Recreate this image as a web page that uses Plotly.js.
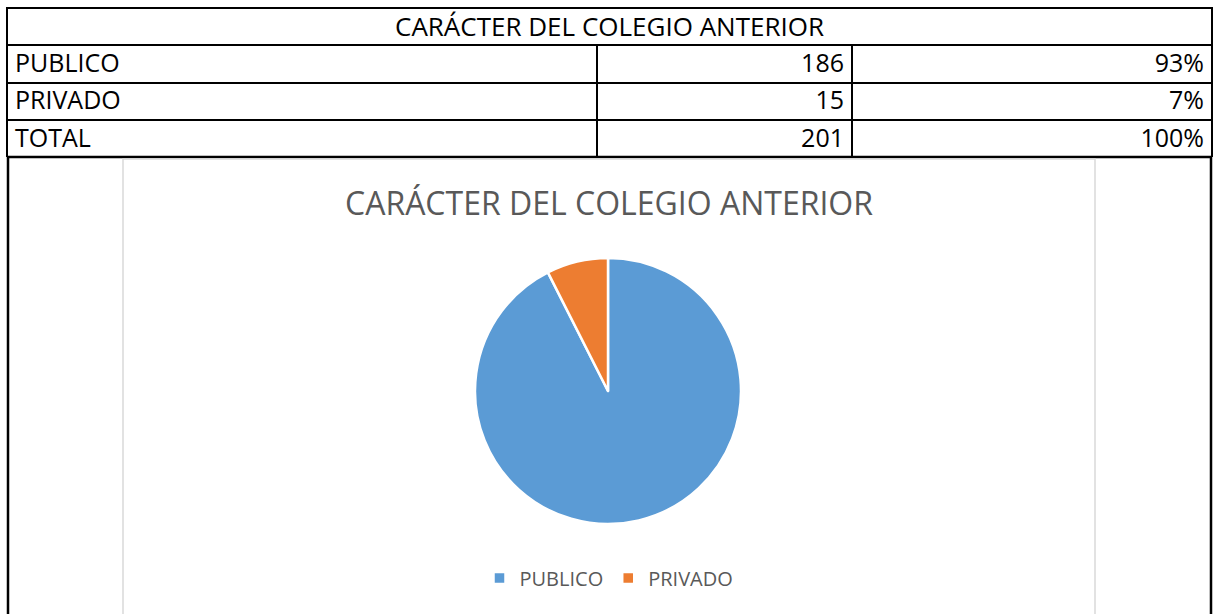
<!DOCTYPE html>
<html>
<head>
<meta charset="utf-8">
<script src="https://cdn.plot.ly/plotly-3.0.1.min.js"></script>
<style>
  html, body { margin: 0; padding: 0; background: #fff; }
  #grafica { width: 1217px; height: 614px; }
</style>
</head>
<body>
<div id="grafica"></div>
<script>
// datos de la tabla y del grafico
var titulo = 'CARÁCTER DEL COLEGIO ANTERIOR';
var categorias = ['PUBLICO', 'PRIVADO'];
var cantidades = [186, 15];
var porcentajes = ['93%', '7%'];
var filaTotal = ['TOTAL', '201', '100%'];
var colores = ['#5B9BD5', '#ED7D31'];

var W = 1217, H = 614;
function px(x) { return x / W; }
function py(y) { return 1 - y / H; }

var fuente = 'Open Sans, Noto Sans, sans-serif';
var fuenteTabla = { family: fuente, size: 25, color: 'black' };
var bordeTabla = { color: 'black', width: 2 };

// primera fila va en el encabezado (plotly no deja tabla sin encabezado)
var col1 = categorias.concat([filaTotal[0]]);
var col2 = cantidades.map(String).concat([filaTotal[1]]);
var col3 = porcentajes.concat([filaTotal[2]]);

var tablaTitulo = {
  type: 'table',
  domain: { x: [px(7), px(1212)], y: [py(50), py(8)] },
  columnwidth: [1],
  header: {
    values: [[titulo]],
    height: 37,
    align: 'center',
    line: bordeTabla,
    fill: { color: 'white' },
    font: { family: fuente, size: 26, color: 'black' }
  },
  cells: { values: [[]] }
};

var tablaDatos = {
  type: 'table',
  domain: { x: [px(7), px(1212)], y: [py(158), py(45)] },
  columnwidth: [590, 255, 360],
  header: {
    values: [[col1[0]], [col2[0]], [col3[0]]],
    height: 37.5,
    align: ['left', 'right', 'right'],
    line: bordeTabla,
    fill: { color: 'white' },
    font: fuenteTabla
  },
  cells: {
    values: [col1.slice(1), col2.slice(1), col3.slice(1)],
    height: 37.5,
    align: ['left', 'right', 'right'],
    line: bordeTabla,
    fill: { color: 'white' },
    font: fuenteTabla
  }
};

var pastel = {
  type: 'pie',
  labels: categorias,
  values: cantidades,
  sort: false,
  direction: 'clockwise',
  rotation: 0,
  textinfo: 'none',
  hoverinfo: 'label+value+percent',
  marker: { colors: colores, line: { color: 'white', width: 2.5 } },
  domain: { x: [px(475), px(741)], y: [py(524), py(258)] }
};

var layout = {
  width: W,
  height: H,
  margin: { l: 0, r: 0, t: 0, b: 0 },
  paper_bgcolor: 'white',
  plot_bgcolor: 'white',
  showlegend: true,
  title: {
    text: titulo,
    x: px(609),
    xanchor: 'center',
    y: py(204),
    yanchor: 'middle',
    font: { family: fuente, size: 32, color: '#595959' }
  },
  legend: {
    orientation: 'h',
    x: px(609),
    xanchor: 'center',
    y: py(578),
    yanchor: 'middle',
    font: { family: fuente, size: 20, color: '#595959' },
    itemclick: false
  },
  shapes: [
    { type: 'line', xref: 'paper', yref: 'paper', x0: px(7), x1: px(1212), y0: py(157), y1: py(157), line: { color: 'black', width: 2.5 } },
    // bordes exteriores bajo la tabla
    { type: 'line', xref: 'paper', yref: 'paper', x0: px(8), x1: px(8), y0: py(157), y1: 0, line: { color: 'black', width: 2.5 } },
    { type: 'line', xref: 'paper', yref: 'paper', x0: px(1211), x1: px(1211), y0: py(157), y1: 0, line: { color: 'black', width: 2.5 } },
    // marco del area del grafico
    { type: 'rect', xref: 'paper', yref: 'paper', x0: px(123), x1: px(1095), y0: -0.02, y1: py(159), line: { color: '#D9D9D9', width: 1.5 }, fillcolor: 'rgba(0,0,0,0)' }
  ]
};

Plotly.newPlot('grafica', [tablaTitulo, tablaDatos, pastel], layout, { displayModeBar: false, staticPlot: true });
</script>
</body>
</html>
